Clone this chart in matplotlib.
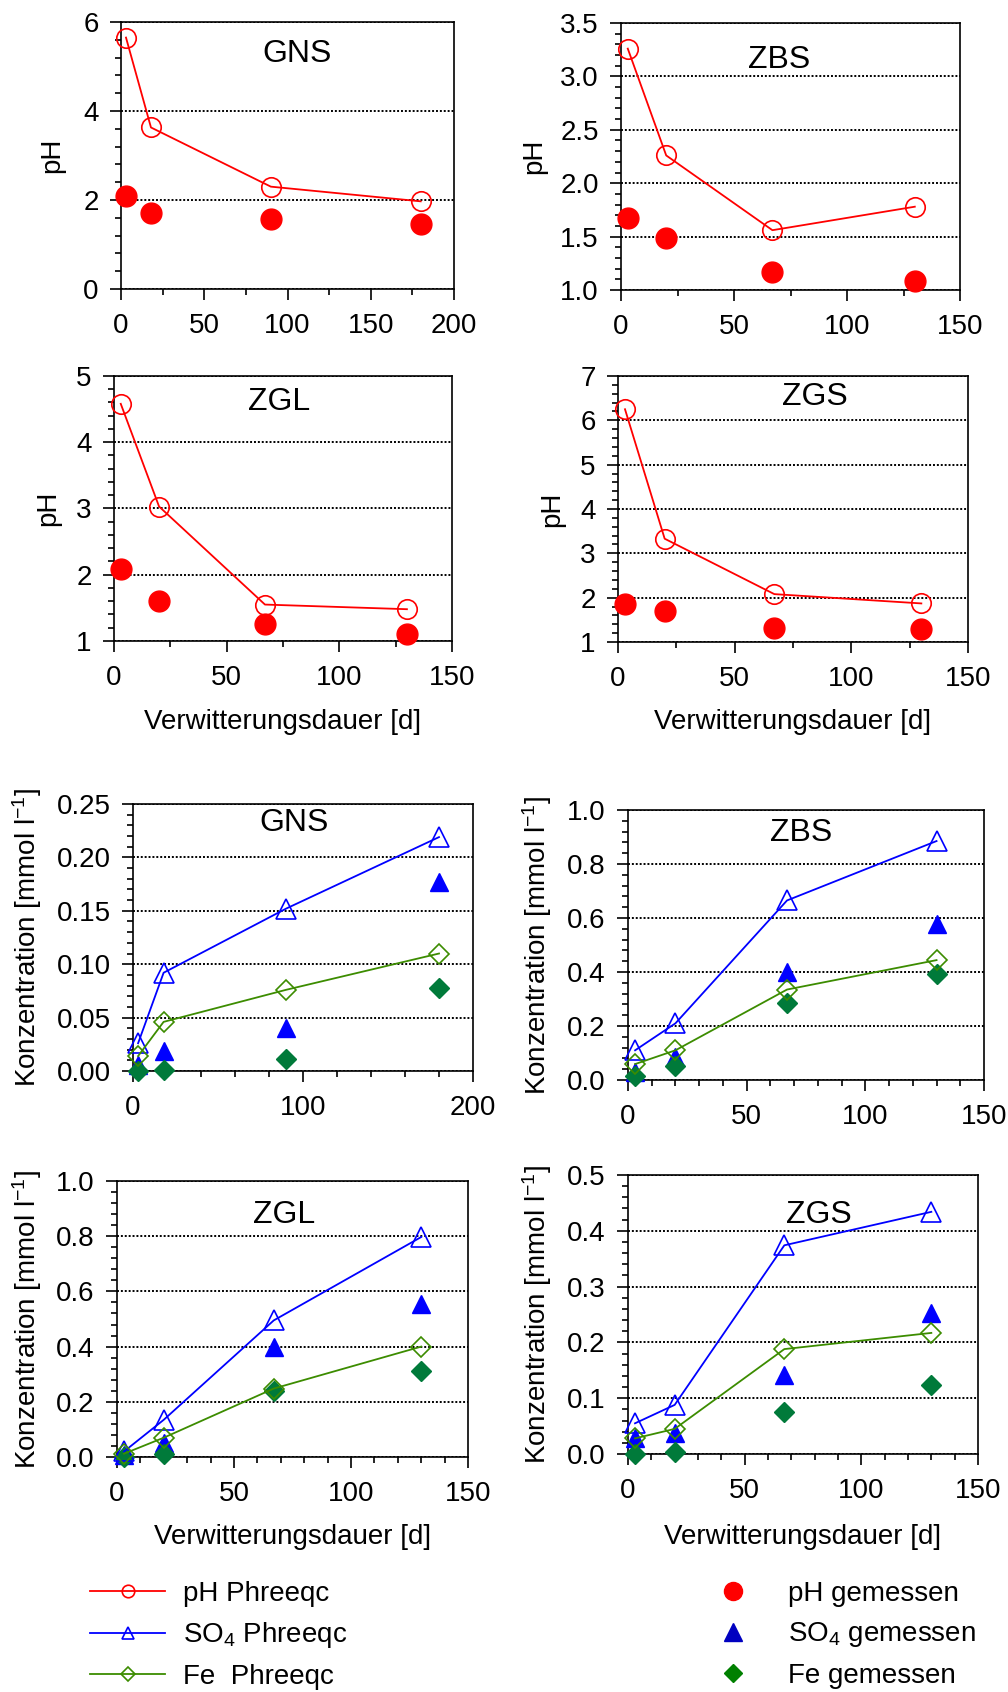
import matplotlib
matplotlib.use("Agg")
import matplotlib.pyplot as plt
from matplotlib.ticker import MultipleLocator, FormatStrFormatter
from matplotlib.lines import Line2D

plt.rcParams['font.family'] = ['Liberation Sans', 'DejaVu Sans']
plt.rcParams['mathtext.fontset'] = 'custom'
plt.rcParams['mathtext.rm'] = 'Liberation Sans'
plt.rcParams['mathtext.default'] = 'regular'

# sampling times [d]
t_gns = [3, 18, 90, 180]
t_other = [3, 20, 67, 130]

# pH: Phreeqc simulation and measured
gns_ph_sim = [5.65, 3.63, 2.30, 1.97]
gns_ph_meas = [2.08, 1.71, 1.58, 1.47]
zbs_ph_sim = [3.26, 2.26, 1.56, 1.78]
zbs_ph_meas = [1.67, 1.49, 1.17, 1.08]
zgl_ph_sim = [4.58, 3.03, 1.55, 1.48]
zgl_ph_meas = [2.08, 1.60, 1.25, 1.10]
zgs_ph_sim = [6.25, 3.33, 2.08, 1.87]
zgs_ph_meas = [1.86, 1.71, 1.32, 1.29]

# concentrations [mmol/l]
gns_so4_sim = [0.026, 0.092, 0.152, 0.219]
gns_so4_meas = [0.006, 0.019, 0.040, 0.177]
gns_fe_sim = [0.014, 0.046, 0.076, 0.110]
gns_fe_meas = [0.000, 0.001, 0.011, 0.078]

zbs_so4_sim = [0.11, 0.21, 0.665, 0.885]
zbs_so4_meas = [0.03, 0.085, 0.40, 0.577]
zbs_fe_sim = [0.059, 0.11, 0.335, 0.444]
zbs_fe_meas = [0.015, 0.052, 0.286, 0.392]

zgl_so4_sim = [0.02, 0.135, 0.495, 0.797]
zgl_so4_meas = [0.007, 0.05, 0.397, 0.556]
zgl_fe_sim = [0.012, 0.07, 0.248, 0.40]
zgl_fe_meas = [0.0, 0.01, 0.24, 0.31]

zgs_so4_sim = [0.055, 0.088, 0.374, 0.434]
zgs_so4_meas = [0.028, 0.037, 0.141, 0.253]
zgs_fe_sim = [0.028, 0.045, 0.188, 0.217]
zgs_fe_meas = [0.0, 0.004, 0.076, 0.124]

RED = '#ff0000'
BLUE = '#0000ff'
FE_SIM = '#3c8c00'
FE_MEAS = '#007a3a'

W, H = 1008, 1692
fig = plt.figure(figsize=(W / 100, H / 100), dpi=100)


def make_ax(left, top, right, bottom):
    return fig.add_axes([left / W, 1 - bottom / H, (right - left) / W, (bottom - top) / H])


def style(ax, xmax, xmaj, xmin, ylim, ymaj, ymin, yfmt):
    ax.set_xlim(0, xmax)
    ax.set_ylim(*ylim)
    ax.xaxis.set_major_locator(MultipleLocator(xmaj))
    ax.xaxis.set_minor_locator(MultipleLocator(xmin))
    ax.yaxis.set_major_locator(MultipleLocator(ymaj))
    ax.yaxis.set_minor_locator(MultipleLocator(ymin))
    ax.yaxis.set_major_formatter(FormatStrFormatter(yfmt))
    ax.tick_params(which='both', direction='out', top=False, right=False, width=1.2, labelsize=20)
    ax.tick_params(which='major', length=8)
    ax.tick_params(axis='x', which='major', pad=9)
    ax.tick_params(axis='y', which='major', pad=8)
    ax.tick_params(which='minor', length=4)
    ax.yaxis.grid(True, which='major', linestyle=(0, (1, 1)), color='k', lw=1.4)
    ax.set_axisbelow(True)
    for s in ax.spines.values():
        s.set_linewidth(1.2)


def title(ax, name, x, y):
    ax.text(x, y, name, transform=ax.transAxes, ha='center', va='center', fontsize=23)


def ylabel(ax, text, xpix):
    b = ax.get_position()
    fig.text(xpix / W, (b.y0 + b.y1) / 2, text, rotation=90, ha='center', va='center', fontsize=20)


def xlabel(ax, ypix):
    b = ax.get_position()
    fig.text((b.x0 + b.x1) / 2, 1 - ypix / H, 'Verwitterungsdauer [d]', ha='center', va='center', fontsize=20)


ph_panels = [
    ((121, 22, 454, 289), 'GNS', (0.53, 0.88), t_gns, gns_ph_sim, gns_ph_meas, 200, (0, 6), 2, 0.4, '%d', 52),
    ((621, 23, 960, 290), 'ZBS', (0.466, 0.861), t_other, zbs_ph_sim, zbs_ph_meas, 150, (1, 3.5), 0.5, 0.1, '%.1f', 534),
    ((114, 376, 452, 641), 'ZGL', (0.49, 0.90), t_other, zgl_ph_sim, zgl_ph_meas, 150, (1, 5), 1, 0.2, '%d', 48),
    ((618, 376, 968, 642), 'ZGS', (0.563, 0.92), t_other, zgs_ph_sim, zgs_ph_meas, 150, (1, 7), 1, 0.2, '%d', 552),
]

for box, name, tpos, t, sim, meas, xmax, ylim, ymaj, ymin, yfmt, ylx in ph_panels:
    ax = make_ax(*box)
    style(ax, xmax, 50, 25, ylim, ymaj, ymin, yfmt)
    ax.plot(t, meas, 'o', color=RED, ms=15, clip_on=False, zorder=3)
    ax.plot(t, sim, '-o', color=RED, lw=1.3, ms=14, mfc='none', mew=1.2, clip_on=False, zorder=4)
    title(ax, name, *tpos)
    ylabel(ax, 'pH', ylx)
    if name in ('ZGL', 'ZGS'):
        xlabel(ax, 722)

conc_label = 'Konzentration [mmol l$^{-1}$]'
conc_panels = [
    ((133, 804, 473, 1071), 'GNS', (0.474, 0.93), t_gns,
     gns_so4_sim, gns_so4_meas, gns_fe_sim, gns_fe_meas, 200, 100, 20, (0, 0.25), 0.05, 0.01, '%.2f', 27),
    ((628, 810, 984, 1080), 'ZBS', (0.486, 0.915), t_other,
     zbs_so4_sim, zbs_so4_meas, zbs_fe_sim, zbs_fe_meas, 150, 50, 10, (0, 1.0), 0.2, 0.04, '%.1f', 537),
    ((117, 1181, 468, 1457), 'ZGL', (0.476, 0.877), t_other,
     zgl_so4_sim, zgl_so4_meas, zgl_fe_sim, zgl_fe_meas, 150, 50, 10, (0, 1.0), 0.2, 0.04, '%.1f', 27),
    ((628, 1175, 978, 1454), 'ZGS', (0.546, 0.857), t_other,
     zgs_so4_sim, zgs_so4_meas, zgs_fe_sim, zgs_fe_meas, 150, 50, 10, (0, 0.5), 0.1, 0.02, '%.1f', 537),
]

for (box, name, tpos, t, so4_sim, so4_meas, fe_sim, fe_meas,
     xmax, xmaj, xmin, ylim, ymaj, ymin, yfmt, ylx) in conc_panels:
    ax = make_ax(*box)
    style(ax, xmax, xmaj, xmin, ylim, ymaj, ymin, yfmt)
    ax.plot(t, so4_meas, '^', color=BLUE, ms=13, clip_on=False, zorder=3)
    ax.plot(t, fe_meas, 'D', color=FE_MEAS, ms=10, clip_on=False, zorder=3)
    ax.plot(t, so4_sim, '-^', color=BLUE, lw=1.3, ms=14, mfc='none', mew=1.2, clip_on=False, zorder=4)
    ax.plot(t, fe_sim, '-D', color=FE_SIM, lw=1.3, ms=10, mfc='none', mew=1.2, clip_on=False, zorder=4)
    title(ax, name, *tpos)
    ylabel(ax, conc_label, ylx)
    if name in ('ZGL', 'ZGS'):
        xlabel(ax, 1537)

# legends
sim_handles = [
    Line2D([], [], color=RED, lw=1.3, marker='o', ms=9, mfc='none', mew=1.2),
    Line2D([], [], color=BLUE, lw=1.3, marker='^', ms=9, mfc='none', mew=1.2),
    Line2D([], [], color=FE_SIM, lw=1.3, marker='D', ms=7, mfc='none', mew=1.2),
]
sim_labels = ['pH Phreeqc', 'SO$_4$ Phreeqc', 'Fe  Phreeqc']
meas_handles = [
    Line2D([], [], ls='none', color=RED, marker='o', ms=13),
    Line2D([], [], ls='none', color='#0000c0', marker='^', ms=13),
    Line2D([], [], ls='none', color='#008000', marker='D', ms=9),
]
meas_labels = ['pH gemessen', 'SO$_4$ gemessen', 'Fe gemessen']

leg_kw = dict(loc='upper left', frameon=False, fontsize=20, handlelength=2.7,
              handletextpad=0.65, labelspacing=0.48, borderpad=0, borderaxespad=0)
fig.legend(sim_handles, sim_labels, bbox_to_anchor=(90 / W, 1 - 1581 / H), **leg_kw)
fig.legend(meas_handles, meas_labels, bbox_to_anchor=(695 / W, 1 - 1581 / H), **leg_kw)

fig.savefig('out.png', dpi=100)
